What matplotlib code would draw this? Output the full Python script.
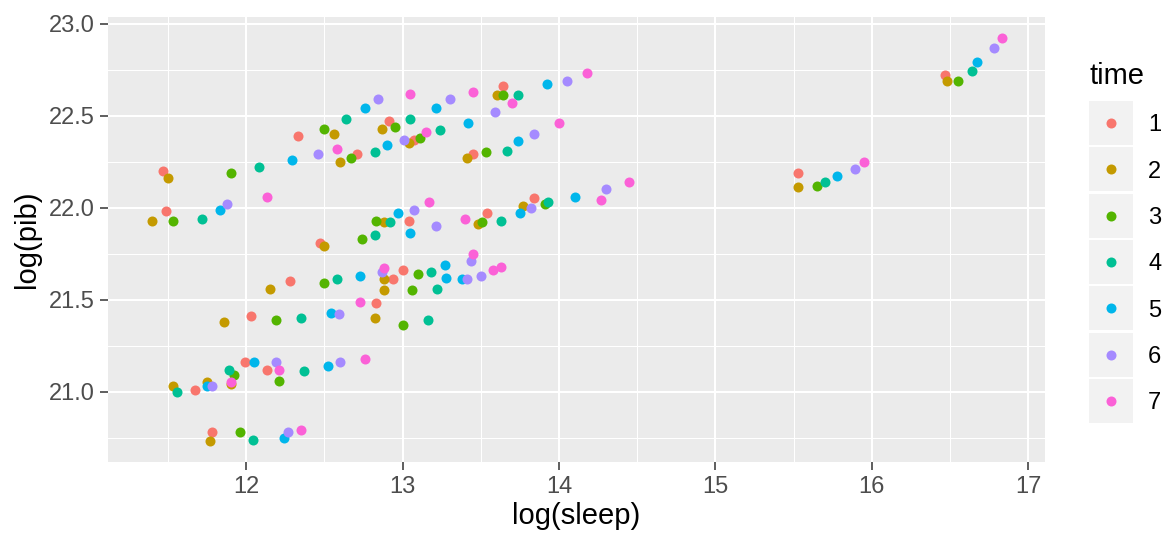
import matplotlib
matplotlib.use("Agg")
import matplotlib.pyplot as plt
from matplotlib.lines import Line2D
from matplotlib.ticker import MultipleLocator, FormatStrFormatter

# one colour per time period (ggplot default hue palette)
times = ["1", "2", "3", "4", "5", "6", "7"]
colors = ["#F8766D", "#C49A00", "#53B400", "#00C094", "#00B6EB", "#A58AFF", "#FB61D7"]

sleep_1 = [12.91, 12.33, 12.71, 13.07, 11.47, 11.49, 12.47, 13.04, 13.64, 13.45, 13.84, 13.54,
           12.94, 13.00, 12.28, 12.83, 12.03, 12.13, 11.99, 11.67, 11.78, 16.47, 15.53]
pib_1 = [22.47, 22.39, 22.29, 22.37, 22.20, 21.98, 21.81, 21.93, 22.66, 22.29, 22.05, 21.97,
         21.61, 21.66, 21.60, 21.48, 21.41, 21.12, 21.16, 21.01, 20.78, 22.72, 22.19]

sleep_2 = [12.87, 12.56, 12.60, 13.04, 11.50, 11.40, 12.50, 12.88, 13.60, 13.41, 13.77, 13.48,
           12.88, 12.88, 12.15, 12.82, 11.86, 11.90, 11.75, 11.53, 11.77, 16.48, 15.53]
pib_2 = [22.43, 22.40, 22.25, 22.35, 22.16, 21.93, 21.79, 21.92, 22.61, 22.27, 22.01, 21.91,
         21.61, 21.55, 21.56, 21.40, 21.38, 21.04, 21.05, 21.03, 20.73, 22.69, 22.11]

sleep_3 = [12.95, 12.50, 12.67, 13.11, 11.90, 11.53, 12.74, 12.83, 13.64, 13.53, 13.91, 13.51,
           13.10, 13.06, 12.50, 13.00, 12.19, 12.21, 11.92, 11.96, 16.55, 15.65]
pib_3 = [22.44, 22.43, 22.27, 22.38, 22.19, 21.93, 21.83, 21.93, 22.61, 22.30, 22.02, 21.92,
         21.64, 21.55, 21.59, 21.36, 21.39, 21.06, 21.09, 20.78, 22.69, 22.12]

sleep_4 = [12.64, 12.82, 13.05, 12.08, 11.72, 12.82, 12.92, 13.74, 13.24, 13.67, 13.93, 13.63,
           13.18, 13.22, 12.58, 13.16, 12.35, 12.37, 11.89, 11.56, 12.04, 16.64, 15.70]
pib_4 = [22.48, 22.30, 22.48, 22.22, 21.94, 21.85, 21.92, 22.61, 22.42, 22.31, 22.03, 21.93,
         21.65, 21.56, 21.61, 21.39, 21.40, 21.11, 21.12, 21.00, 20.74, 22.74, 22.14]

sleep_5 = [12.76, 12.29, 12.90, 11.83, 12.97, 13.05, 13.21, 13.92, 13.42, 13.74, 14.10, 13.75,
           12.73, 12.54, 12.52, 12.05, 11.75, 12.24, 13.27, 13.28, 13.38, 16.67, 15.78]
pib_5 = [22.54, 22.26, 22.34, 21.99, 21.97, 21.86, 22.54, 22.67, 22.46, 22.36, 22.06, 21.97,
         21.63, 21.43, 21.14, 21.16, 21.03, 20.75, 21.69, 21.62, 21.61, 22.79, 22.17]

sleep_6 = [12.84, 12.46, 13.01, 11.88, 13.07, 13.30, 13.59, 14.05, 13.84, 14.30, 13.82, 13.21,
           12.87, 12.59, 12.60, 12.19, 11.78, 12.27, 13.44, 13.41, 13.50, 16.78, 15.89]
pib_6 = [22.59, 22.29, 22.37, 22.02, 21.99, 22.59, 22.52, 22.69, 22.40, 22.10, 22.00, 21.90,
         21.65, 21.42, 21.16, 21.16, 21.03, 20.78, 21.71, 21.61, 21.63, 22.87, 22.21]

sleep_7 = [13.05, 12.58, 13.15, 12.13, 13.17, 13.45, 13.70, 14.18, 14.00, 14.45, 14.27, 13.40,
           13.45, 12.88, 12.73, 12.76, 12.21, 11.90, 12.35, 13.58, 13.63, 16.83, 15.95]
pib_7 = [22.62, 22.32, 22.41, 22.06, 22.03, 22.63, 22.57, 22.73, 22.46, 22.14, 22.04, 21.94,
         21.75, 21.67, 21.49, 21.18, 21.12, 21.05, 20.79, 21.66, 21.68, 22.92, 22.25]

sleep_by_time = [sleep_1, sleep_2, sleep_3, sleep_4, sleep_5, sleep_6, sleep_7]
pib_by_time = [pib_1, pib_2, pib_3, pib_4, pib_5, pib_6, pib_7]

plt.rcParams["font.family"] = ["Liberation Sans", "DejaVu Sans"]

fig = plt.figure(figsize=(11.66, 5.40), dpi=100)
ax = fig.add_axes([108 / 1166, 1 - 462 / 540, (1045 - 108) / 1166, (462 - 17) / 540])

ax.set_facecolor("#EBEBEB")
for side in ax.spines.values():
    side.set_visible(False)

ax.xaxis.set_major_locator(MultipleLocator(1))
ax.xaxis.set_minor_locator(MultipleLocator(0.5))
ax.yaxis.set_major_locator(MultipleLocator(0.5))
ax.yaxis.set_minor_locator(MultipleLocator(0.25))
ax.grid(which="major", color="white", linewidth=1.5)
ax.grid(which="minor", color="white", linewidth=0.75)
ax.set_axisbelow(True)

for t, c, xs, ys in zip(times, colors, sleep_by_time, pib_by_time):
    ax.scatter(xs, ys, s=52, color=c, linewidths=0, zorder=3)

ax.set_xlim(11.116, 17.107)
ax.set_ylim(20.618, 23.036)
ax.yaxis.set_major_formatter(FormatStrFormatter("%.1f"))

ax.tick_params(which="major", length=5.5, width=1.1, color="#333333",
               labelsize=17, labelcolor="#4D4D4D", pad=4.4)
ax.tick_params(which="minor", length=0)

ax.set_xlabel("log(sleep)", fontsize=21, color="black", labelpad=3)
ax.set_ylabel("log(pib)", fontsize=21, color="black", labelpad=5)

# legend keys: light grey square behind each coloured dot, like ggplot
handles = [
    (Line2D([], [], marker="s", linestyle="none", color="#F2F2F2", markeredgewidth=0, markersize=31.7),
     Line2D([], [], marker="o", linestyle="none", color=c, markeredgewidth=0, markersize=7.2))
    for c in colors
]
leg = fig.legend(handles, times, loc="upper left", bbox_to_anchor=(1089 / 1166, 1 - 62 / 540),
                 frameon=False, fontsize=17, title="time", title_fontsize=21,
                 handlelength=1.86, handleheight=0.7, labelspacing=1.03,
                 handletextpad=0.64, borderpad=0, borderaxespad=0, alignment="left")

fig.savefig("out.png", dpi=100)
